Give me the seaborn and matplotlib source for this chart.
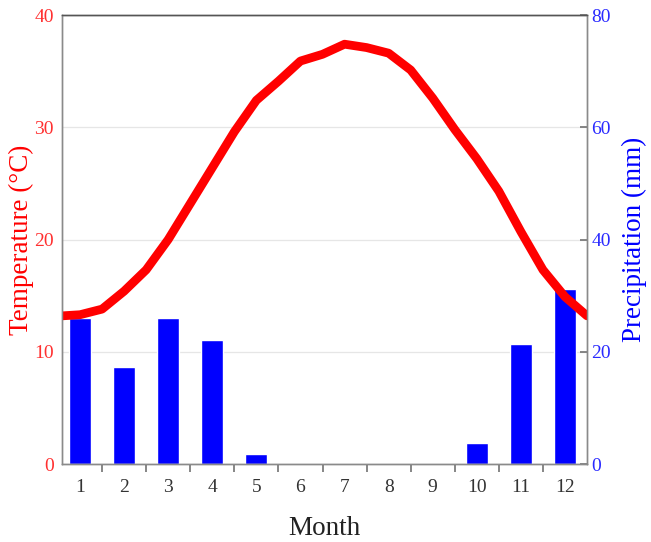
import seaborn as sns
import matplotlib.pyplot as plt
import numpy as np

# data
months = [1, 2, 3, 4, 5, 6, 7, 8, 9, 10, 11, 12]
month_labels = ['1', '2', '3', '4', '5', '6', '7', '8', '9', '10', '11', '12']
precip = [26.0, 17.3, 26.0, 22.1, 1.8, 0, 0, 0, 0, 3.7, 21.4, 31.2]

temp_x = [0.6, 1.0, 1.5, 2.0, 2.5, 3.0, 3.5, 4.0, 4.5, 5.0, 5.5, 6.0, 6.5,
          7.0, 7.5, 8.0, 8.5, 9.0, 9.5, 10.0, 10.5, 11.0, 11.5, 12.0, 12.5]
temp_y = [13.2, 13.3, 13.8, 15.4, 17.3, 20.0, 23.2, 26.4, 29.6, 32.4, 34.1, 35.9, 36.5,
          37.4, 37.1, 36.6, 35.1, 32.6, 29.8, 27.2, 24.3, 20.7, 17.3, 14.9, 13.2]

sns.set_theme(style="white")
plt.rcParams['font.family'] = ['Liberation Serif', 'DejaVu Serif']

fig = plt.figure(figsize=(6.51, 5.42), dpi=100)
ax1 = fig.add_axes([0.0952, 0.1439, 0.8065, 0.8284])
ax2 = ax1.twinx()

# precipitation bars on the right axis (drawn below the line)
sns.barplot(x=months, y=precip, native_scale=True, width=0.5, color='#0000ff',
            saturation=1, errorbar=None, orient='x', ax=ax2, zorder=2)
ax2.set_ylim(0, 80)
ax2.set_yticks([0, 20, 40, 60, 80])
ax2.yaxis.grid(True, color='#e6e6e6', linewidth=0.9)
ax2.set_axisbelow(True)
ax2.set_ylabel('Precipitation (mm)', color='blue', fontsize=19.5, labelpad=8)
ax2.tick_params(axis='y', colors='#777777', labelcolor='#2a2aff', labelsize=14,
                direction='in', length=5, pad=3)

# temperature line on the left axis
sns.lineplot(x=temp_x, y=temp_y, color='red', linewidth=6.3, sort=False,
             estimator=None, ax=ax1)
ax1.set_zorder(ax2.get_zorder() + 1)
ax1.patch.set_visible(False)
ax1.set_ylim(0, 40)
ax1.set_yticks([0, 10, 20, 30, 40])
ax1.grid(False)
ax1.set_ylabel('Temperature (°C)', color='red', fontsize=19.5, labelpad=0)
ax1.tick_params(axis='y', labelcolor='#ff3030', labelsize=14, length=0, pad=6)

# month labels centred on bars, tick marks between months
ax1.set_xlim(0.59, 12.5)
ax1.set_xticks(np.arange(1.5, 12, 1.0))
ax1.set_xticklabels([])
ax1.set_xticks(months, month_labels, minor=True)
ax1.tick_params(axis='x', which='major', direction='out', length=6, color='#777777',
                bottom=True)
ax1.tick_params(axis='x', which='minor', length=0, pad=11, labelsize=14,
                labelcolor='#333333', bottom=True)
ax1.set_xlabel('Month', fontsize=19.5, color='#222222', labelpad=14)
ax2.set_xlabel('')

for ax in (ax1, ax2):
    for side in ['left', 'right', 'bottom']:
        ax.spines[side].set_color('#8a8a8a')
        ax.spines[side].set_linewidth(1.0)
    ax.spines['top'].set_color('#555555')
    ax.spines['top'].set_linewidth(1.0)

fig.savefig('out.png', dpi=100)
